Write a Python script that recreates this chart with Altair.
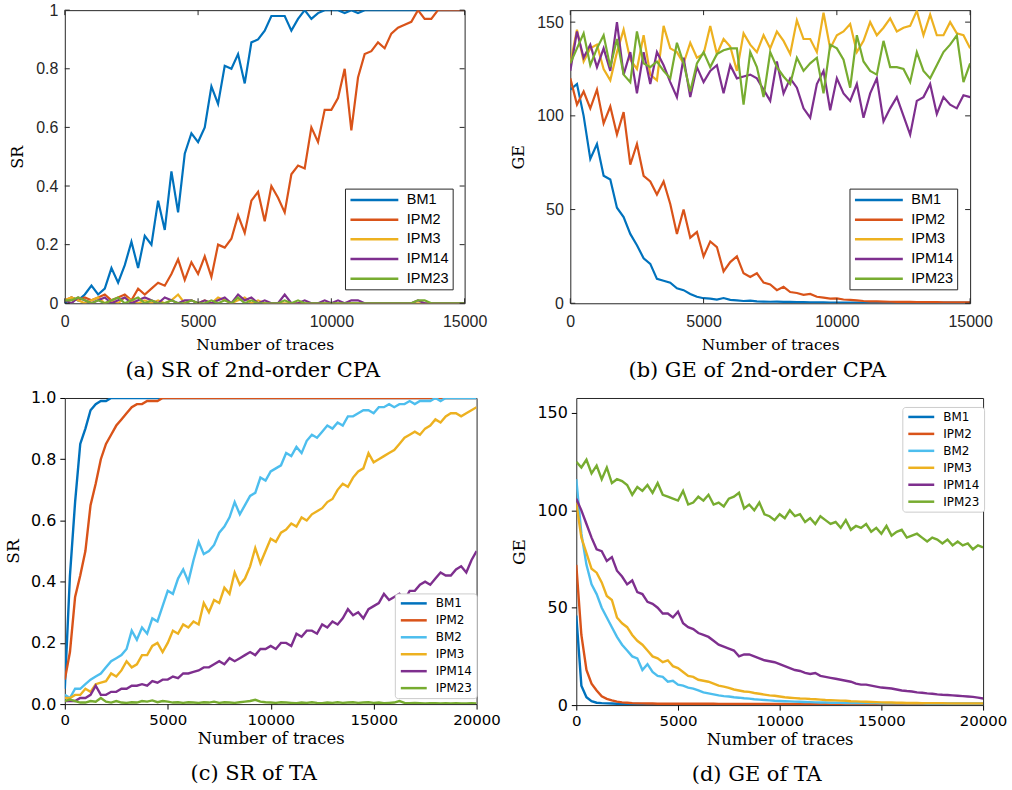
import altair as alt
import pandas as pd

# ---------------------------------------------------------------- data
# Traces are sampled every 250; each row below covers 1000 traces.
STEP = 250

SERIES_TOP = ["BM1", "IPM2", "IPM3", "IPM14", "IPM23"]
COLORS_TOP = ["#0072BD", "#D95319", "#EDB120", "#7E2F8E", "#77AC30"]
SERIES_BOT = ["BM1", "IPM2", "BM2", "IPM3", "IPM14", "IPM23"]
COLORS_BOT = ["#0072BD", "#D95319", "#4DBEEE", "#EDB120", "#7E2F8E", "#77AC30"]

X_TICKS_TOP = [0, 5000, 10000, 15000]
X_TICKS_BOT = [0, 5000, 10000, 15000, 20000]
SR_TICKS = [0, 0.2, 0.4, 0.6, 0.8, 1.0]
GE_TICKS = [0, 50, 100, 150]

# (a) success rate, 2nd-order CPA (0 .. 15000)
sr_cpa_bm1 = [
    0.00, 0.02, 0.01, 0.03,
    0.06, 0.03, 0.05, 0.12,
    0.07, 0.13, 0.21, 0.12,
    0.23, 0.20, 0.35, 0.25,
    0.45, 0.31, 0.51, 0.58,
    0.55, 0.60, 0.74, 0.68,
    0.81, 0.80, 0.85, 0.75,
    0.89, 0.90, 0.93, 0.98,
    0.98, 0.98, 0.93, 0.97,
    1.00, 0.97, 0.99, 1.00,
    1.00, 1.00, 0.99, 1.00,
    0.99, 1.00, 1.00, 1.00,
    1.00, 1.00, 1.00, 1.00,
    1.00, 1.00, 1.00, 1.00,
    1.00, 1.00, 1.00, 1.00,
    1.00]
sr_cpa_ipm2 = [
    0.01, 0.02, 0.01, 0.02,
    0.01, 0.02, 0.03, 0.01,
    0.02, 0.03, 0.01, 0.05,
    0.03, 0.05, 0.07, 0.06,
    0.10, 0.15, 0.08, 0.14,
    0.10, 0.16, 0.09, 0.20,
    0.19, 0.22, 0.30, 0.24,
    0.35, 0.38, 0.28, 0.40,
    0.36, 0.31, 0.44, 0.47,
    0.46, 0.60, 0.55, 0.66,
    0.66, 0.70, 0.80, 0.59,
    0.77, 0.85, 0.86, 0.89,
    0.87, 0.92, 0.94, 0.95,
    0.96, 1.00, 0.97, 0.97,
    1.00, 1.00, 1.00, 1.00,
    1.00]
sr_cpa_ipm3 = [
    0.01, 0.02, 0.01, 0.00,
    0.01, 0.02, 0.00, 0.01,
    0.00, 0.02, 0.01, 0.00,
    0.01, 0.00, 0.01, 0.00,
    0.01, 0.03, 0.00, 0.01,
    0.00, 0.01, 0.00, 0.02,
    0.01, 0.00, 0.01, 0.02,
    0.00, 0.01, 0.00, 0.00,
    0.00, 0.00, 0.00, 0.00,
    0.00, 0.00, 0.00, 0.00,
    0.00, 0.00, 0.00, 0.00,
    0.00, 0.00, 0.00, 0.00,
    0.00, 0.00, 0.00, 0.00,
    0.00, 0.00, 0.00, 0.00,
    0.00, 0.00, 0.00, 0.00,
    0.00]
sr_cpa_ipm14 = [
    0.01, 0.00, 0.02, 0.01,
    0.00, 0.01, 0.02, 0.00,
    0.01, 0.02, 0.00, 0.01,
    0.02, 0.01, 0.00, 0.02,
    0.01, 0.00, 0.01, 0.01,
    0.00, 0.01, 0.00, 0.01,
    0.02, 0.00, 0.03, 0.01,
    0.02, 0.00, 0.01, 0.00,
    0.00, 0.03, 0.00, 0.00,
    0.01, 0.00, 0.00, 0.01,
    0.00, 0.01, 0.00, 0.01,
    0.01, 0.00, 0.00, 0.00,
    0.00, 0.00, 0.00, 0.00,
    0.00, 0.01, 0.00, 0.00,
    0.00, 0.00, 0.00, 0.00,
    0.00]
sr_cpa_ipm23 = [
    0.01, 0.01, 0.02, 0.01,
    0.00, 0.01, 0.00, 0.01,
    0.02, 0.00, 0.01, 0.02,
    0.00, 0.01, 0.00, 0.00,
    0.01, 0.00, 0.00, 0.01,
    0.00, 0.00, 0.01, 0.00,
    0.01, 0.00, 0.02, 0.00,
    0.01, 0.00, 0.00, 0.00,
    0.00, 0.01, 0.00, 0.01,
    0.00, 0.00, 0.00, 0.00,
    0.00, 0.00, 0.00, 0.00,
    0.00, 0.00, 0.00, 0.00,
    0.00, 0.00, 0.00, 0.00,
    0.00, 0.01, 0.01, 0.00,
    0.00, 0.00, 0.00, 0.00,
    0.00]

# (b) guessing entropy, 2nd-order CPA (0 .. 15000)
ge_cpa_bm1 = [
    114, 117, 100, 77,
    85, 68, 66, 51,
    46, 37, 31, 24,
    21, 13, 12, 11,
    8, 7, 5, 3.5,
    2.7, 2.5, 2.0, 2.8,
    1.8, 1.5, 1.2, 1.4,
    1.0, 0.9, 0.8, 0.9,
    0.7, 0.7, 0.6, 0.6,
    0.5, 0.5, 0.5, 0.4,
    0.4, 0.4, 0.4, 0.4,
    0.3, 0.3, 0.3, 0.3,
    0.3, 0.3, 0.3, 0.3,
    0.3, 0.3, 0.3, 0.3,
    0.3, 0.3, 0.3, 0.3,
    0.3]
ge_cpa_ipm2 = [
    120, 106, 113, 104,
    114, 96, 105, 90,
    102, 74, 85, 68,
    65, 58, 65, 53,
    37, 50, 35, 38,
    25, 33, 30, 17,
    22, 25, 16, 14,
    16, 11, 10, 7,
    8.8, 6, 5.5, 4.5,
    5, 3.5, 3, 2.5,
    2.6, 2, 1.8, 1.5,
    1.2, 1.0, 1.0, 0.9,
    0.8, 0.7, 0.7, 0.7,
    0.6, 0.6, 0.6, 0.6,
    0.5, 0.5, 0.5, 0.5,
    0.5]
ge_cpa_ipm3 = [
    128, 146, 129, 136,
    138, 125, 119, 134,
    146, 130, 125, 143,
    122, 119, 148, 136,
    134, 128, 139, 131,
    133, 148, 133, 141,
    137, 124, 144, 138,
    134, 143, 136, 145,
    140, 133, 151, 141,
    141, 134, 155, 136,
    143, 145, 149, 134,
    140, 150, 143, 147,
    152, 145, 147, 148,
    156, 143, 154, 143,
    143, 150, 144, 143,
    136]
ge_cpa_ipm14 = [
    124, 145, 131, 138,
    126, 136, 124, 150,
    122, 134, 112, 134,
    117, 134, 127, 118,
    110, 131, 110, 126,
    118, 124, 127, 112,
    127, 120, 121, 122,
    120, 114, 108, 129,
    112, 120, 115, 104,
    99, 117, 124, 103,
    120, 112, 108, 117,
    99, 112, 120, 97,
    104, 110, 100, 90,
    108, 110, 117, 101,
    110, 106, 104, 111,
    110]
ge_cpa_ipm23 = [
    128, 136, 144, 127,
    136, 143, 126, 141,
    122, 118, 145, 128,
    126, 129, 124, 120,
    139, 128, 113, 128,
    134, 126, 133, 135,
    136, 136, 106, 134,
    126, 110, 134, 126,
    121, 117, 131, 124,
    128, 131, 112, 138,
    136, 130, 115, 143,
    129, 124, 122, 140,
    126, 126, 125, 118,
    134, 124, 120, 127,
    134, 138, 143, 118,
    128]

# (c) success rate, template attack (0 .. 20000)
sr_ta_bm1 = [
    0.05, 0.42, 0.66, 0.85,
    0.90, 0.96, 0.98, 0.99,
    0.99, 1.00, 1.00, 1.00,
    1.00, 1.00, 1.00, 1.00,
    1.00, 1.00, 1.00, 1.00,
    1.00, 1.00, 1.00, 1.00,
    1.00, 1.00, 1.00, 1.00,
    1.00, 1.00, 1.00, 1.00,
    1.00, 1.00, 1.00, 1.00,
    1.00, 1.00, 1.00, 1.00,
    1.00, 1.00, 1.00, 1.00,
    1.00, 1.00, 1.00, 1.00,
    1.00, 1.00, 1.00, 1.00,
    1.00, 1.00, 1.00, 1.00,
    1.00, 1.00, 1.00, 1.00,
    1.00, 1.00, 1.00, 1.00,
    1.00, 1.00, 1.00, 1.00,
    1.00, 1.00, 1.00, 1.00,
    1.00, 1.00, 1.00, 1.00,
    1.00, 1.00, 1.00, 1.00,
    1.00]
sr_ta_ipm2 = [
    0.08, 0.17, 0.35, 0.42,
    0.50, 0.65, 0.72, 0.80,
    0.85, 0.88, 0.91, 0.93,
    0.95, 0.97, 0.98, 0.98,
    0.99, 0.99, 0.99, 1.00,
    1.00, 1.00, 1.00, 1.00,
    1.00, 1.00, 1.00, 1.00,
    1.00, 1.00, 1.00, 1.00,
    1.00, 1.00, 1.00, 1.00,
    1.00, 1.00, 1.00, 1.00,
    1.00, 1.00, 1.00, 1.00,
    1.00, 1.00, 1.00, 1.00,
    1.00, 1.00, 1.00, 1.00,
    1.00, 1.00, 1.00, 1.00,
    1.00, 1.00, 1.00, 1.00,
    1.00, 1.00, 1.00, 1.00,
    1.00, 1.00, 1.00, 1.00,
    1.00, 1.00, 1.00, 1.00,
    1.00, 1.00, 1.00, 1.00,
    1.00, 1.00, 1.00, 1.00,
    1.00]
sr_ta_bm2 = [
    0.03, 0.02, 0.05, 0.05,
    0.065, 0.08, 0.09, 0.10,
    0.12, 0.14, 0.15, 0.16,
    0.18, 0.24, 0.21, 0.25,
    0.23, 0.28, 0.27, 0.32,
    0.37, 0.36, 0.41, 0.44,
    0.40, 0.47, 0.53, 0.49,
    0.50, 0.52, 0.56, 0.58,
    0.61, 0.66, 0.62, 0.65,
    0.68, 0.69, 0.74, 0.73,
    0.76, 0.77, 0.78, 0.82,
    0.81, 0.84, 0.82, 0.86,
    0.88, 0.87, 0.89, 0.91,
    0.90, 0.92, 0.91, 0.94,
    0.94, 0.95, 0.96, 0.96,
    0.95, 0.97, 0.97, 0.98,
    0.97, 0.98, 0.98, 0.99,
    0.98, 0.99, 0.99, 0.99,
    1.00, 0.99, 1.00, 1.00,
    1.00, 1.00, 1.00, 1.00,
    1.00]
sr_ta_ipm3 = [
    0.02, 0.02, 0.03, 0.03,
    0.05, 0.04, 0.065, 0.07,
    0.075, 0.10, 0.09, 0.11,
    0.14, 0.12, 0.13, 0.16,
    0.16, 0.19, 0.20, 0.17,
    0.20, 0.24, 0.23, 0.26,
    0.25, 0.27, 0.26, 0.33,
    0.30, 0.34, 0.33, 0.38,
    0.36, 0.43, 0.39, 0.41,
    0.45, 0.51, 0.46, 0.50,
    0.54, 0.53, 0.56, 0.57,
    0.59, 0.58, 0.61, 0.60,
    0.62, 0.63, 0.64, 0.66,
    0.67, 0.70, 0.72, 0.71,
    0.74, 0.76, 0.77, 0.82,
    0.79, 0.80, 0.81, 0.82,
    0.83, 0.85, 0.87, 0.88,
    0.89, 0.88, 0.90, 0.91,
    0.93, 0.92, 0.94, 0.95,
    0.95, 0.94, 0.95, 0.96,
    0.97]
sr_ta_ipm14 = [
    0.01, 0.01, 0.01, 0.02,
    0.02, 0.03, 0.06, 0.03,
    0.03, 0.04, 0.04, 0.05,
    0.05, 0.06, 0.06, 0.065,
    0.06, 0.075, 0.07, 0.08,
    0.08, 0.09, 0.085, 0.10,
    0.10, 0.105, 0.11, 0.12,
    0.12, 0.13, 0.14, 0.13,
    0.15, 0.14, 0.15, 0.16,
    0.17, 0.16, 0.18, 0.18,
    0.19, 0.18, 0.20, 0.20,
    0.19, 0.23, 0.22, 0.24,
    0.24, 0.23, 0.26, 0.25,
    0.27, 0.26, 0.28, 0.31,
    0.29, 0.30, 0.28, 0.31,
    0.32, 0.33, 0.36, 0.34,
    0.35, 0.36, 0.34, 0.37,
    0.37, 0.39, 0.40, 0.39,
    0.41, 0.43, 0.42, 0.42,
    0.44, 0.45, 0.43, 0.47,
    0.50]
sr_ta_ipm23 = [
    0.010, 0.015, 0.010, 0.005,
    0.005, 0.010, 0.008, 0.020,
    0.008, 0.005, 0.010, 0.005,
    0.004, 0.006, 0.005, 0.010,
    0.008, 0.012, 0.006, 0.010,
    0.008, 0.005, 0.006, 0.004,
    0.006, 0.005, 0.004, 0.006,
    0.005, 0.008, 0.004, 0.006,
    0.005, 0.004, 0.006, 0.008,
    0.010, 0.014, 0.008, 0.006,
    0.005, 0.004, 0.006, 0.005,
    0.004, 0.003, 0.005, 0.004,
    0.006, 0.004, 0.003, 0.005,
    0.004, 0.006, 0.004, 0.005,
    0.006, 0.004, 0.005, 0.006,
    0.004, 0.005, 0.003, 0.004,
    0.005, 0.010, 0.004, 0.003,
    0.004, 0.003, 0.002, 0.003,
    0.003, 0.002, 0.003, 0.002,
    0.003, 0.002, 0.002, 0.003,
    0.002]

# (d) guessing entropy, template attack (0 .. 20000)
ge_ta_bm1 = [
    46, 10, 4, 2,
    1.2, 1.0, 0.9, 0.8,
    0.7, 0.7, 0.6, 0.6,
    0.6, 0.5, 0.5, 0.5,
    0.5, 0.5, 0.5, 0.5,
    0.5, 0.5, 0.5, 0.5,
    0.5, 0.5, 0.5, 0.5,
    0.4, 0.4, 0.4, 0.4,
    0.4, 0.4, 0.4, 0.4,
    0.4, 0.4, 0.4, 0.4,
    0.4, 0.4, 0.4, 0.4,
    0.4, 0.4, 0.4, 0.4,
    0.4, 0.4, 0.4, 0.4,
    0.4, 0.4, 0.4, 0.4,
    0.4, 0.4, 0.4, 0.4,
    0.4, 0.4, 0.4, 0.4,
    0.4, 0.4, 0.4, 0.4,
    0.4, 0.4, 0.4, 0.4,
    0.4, 0.4, 0.4, 0.4,
    0.4, 0.4, 0.4, 0.4,
    0.4]
ge_ta_ipm2 = [
    72, 36, 18, 11,
    7.5, 4.5, 3.2, 2.4,
    1.8, 1.4, 1.2, 1.0,
    0.9, 0.9, 0.8, 0.8,
    0.7, 0.7, 0.7, 0.7,
    0.7, 0.7, 0.7, 0.7,
    0.7, 0.7, 0.7, 0.7,
    0.6, 0.6, 0.6, 0.6,
    0.6, 0.6, 0.6, 0.6,
    0.6, 0.6, 0.6, 0.6,
    0.6, 0.6, 0.6, 0.6,
    0.6, 0.6, 0.6, 0.6,
    0.6, 0.6, 0.6, 0.6,
    0.6, 0.6, 0.6, 0.6,
    0.6, 0.6, 0.6, 0.6,
    0.6, 0.6, 0.6, 0.6,
    0.6, 0.6, 0.6, 0.6,
    0.6, 0.6, 0.6, 0.6,
    0.6, 0.6, 0.6, 0.6,
    0.6, 0.6, 0.6, 0.6,
    0.6]
ge_ta_bm2 = [
    116, 88, 72, 62,
    57, 50, 45, 40,
    35, 31, 28, 25,
    24, 18, 21, 17,
    15, 14.5, 12, 12.5,
    10.5, 10, 9, 8.5,
    7.5, 6.5, 6, 5.5,
    5, 4.6, 4.4, 4,
    3.8, 3.5, 3.3, 3,
    2.8, 2.6, 2.4, 2.2,
    2.1, 2.0, 1.9, 1.8,
    1.7, 1.6, 1.5, 1.4,
    1.3, 1.3, 1.2, 1.2,
    1.2, 1.1, 1.1, 1.1,
    1.0, 1.0, 1.0, 1.0,
    0.9, 0.9, 0.9, 0.9,
    0.9, 0.9, 0.9, 0.9,
    0.9, 0.8, 0.8, 0.8,
    0.8, 0.8, 0.8, 0.8,
    0.8, 0.8, 0.8, 0.8,
    0.8]
ge_ta_ipm3 = [
    104, 86, 78, 70,
    68, 63, 56, 54,
    45, 42, 40, 36,
    33, 31, 28, 25,
    24, 22, 23, 20,
    19, 17, 15, 14.5,
    13, 12.5, 12, 11,
    10, 9.5, 8.8, 8,
    7.5, 7, 6.8, 6.2,
    5.8, 5.4, 5, 4.8,
    4.4, 4, 3.8, 3.6,
    3.4, 3.3, 3.1, 3.0,
    2.8, 2.6, 2.5, 2.4,
    2.3, 2.2, 2.0, 1.9,
    1.8, 1.7, 1.6, 1.5,
    1.4, 1.3, 1.3, 1.2,
    1.2, 1.1, 1.1, 1.1,
    1.0, 1.0, 1.0, 1.0,
    1.0, 0.9, 0.9, 0.9,
    0.9, 0.9, 0.9, 0.9,
    0.9]
ge_ta_ipm14 = [
    106, 100, 93, 86,
    80, 79, 74, 76,
    69, 66, 62, 64,
    58, 57, 53, 52,
    50, 47, 47, 45,
    48, 42, 40, 39,
    37, 36, 35, 33,
    31, 30, 29, 28,
    25, 26, 26, 25,
    24, 23, 22.5, 22,
    21, 20, 19, 18,
    17.5, 16.5, 16, 16.5,
    15, 14.5, 14, 13.5,
    13, 12.5, 12, 11,
    10.5, 10.5, 10, 9.5,
    9, 8.8, 8.5, 8,
    7.5, 7.2, 7, 6.5,
    6.3, 6, 5.8, 5.5,
    5.3, 5.2, 5, 4.8,
    4.6, 4.4, 4.2, 3.8,
    3.4]
ge_ta_ipm23 = [
    125, 122, 126, 119,
    123, 116, 122, 114,
    116, 115, 113, 108,
    112, 110, 113, 109,
    114, 108, 107, 106,
    105, 110, 103, 104,
    107, 105, 108, 103,
    104, 102, 106, 107,
    109, 101, 103, 100,
    104, 98, 97, 95,
    98, 96, 100, 97,
    98, 94, 96, 93,
    97, 95, 93, 94,
    91, 95, 90, 92,
    91, 93, 89, 91,
    88, 92, 87, 89,
    90, 86, 87, 88,
    86, 84, 86, 85,
    83, 85, 82, 84,
    82, 83, 80, 82,
    81]


def long_frame(names, columns):
    rows = []
    for name, vals in zip(names, columns):
        for i, v in enumerate(vals):
            rows.append({"x": i * STEP, "value": v, "series": name})
    return pd.DataFrame(rows)


df_a = long_frame(SERIES_TOP, [sr_cpa_bm1, sr_cpa_ipm2, sr_cpa_ipm3, sr_cpa_ipm14, sr_cpa_ipm23])
df_b = long_frame(SERIES_TOP, [ge_cpa_bm1, ge_cpa_ipm2, ge_cpa_ipm3, ge_cpa_ipm14, ge_cpa_ipm23])
df_c = long_frame(SERIES_BOT, [sr_ta_bm1, sr_ta_ipm2, sr_ta_bm2, sr_ta_ipm3, sr_ta_ipm14, sr_ta_ipm23])
df_d = long_frame(SERIES_BOT, [ge_ta_bm1, ge_ta_ipm2, ge_ta_bm2, ge_ta_ipm3, ge_ta_ipm14, ge_ta_ipm23])

SERIF = "DejaVu Serif"
INK = "#262626"
CAPTION_SIZE = 21


# ---------------------------------------------------------------- panels
def matlab_panel(df, W, H, xmax, ydom, yticks, yfmt, ytitle, lx, ly, caption, cdx):
    xaxis = alt.Axis(values=X_TICKS_TOP, format="d", ticks=False, domain=False, grid=False,
                     labelFont="Liberation Sans", labelFontSize=16, labelColor=INK,
                     labelFlush=False, labelPadding=10,
                     title="Number of traces", titleFont=SERIF, titleFontSize=15.5,
                     titleFontWeight="normal", titleColor="black", titlePadding=8)
    yaxis = alt.Axis(values=yticks, format=yfmt, ticks=False, domain=False, grid=False,
                     labelFont="Liberation Sans", labelFontSize=16, labelColor=INK,
                     labelPadding=7, title=ytitle, titleFont=SERIF, titleFontSize=16,
                     titleFontWeight="normal", titleColor="black", titlePadding=10)
    xsc = alt.Scale(domain=[0, xmax], nice=False, zero=False)
    ysc = alt.Scale(domain=ydom, nice=False, zero=False)
    legend = alt.Legend(orient="none", legendX=lx, legendY=ly, title=None,
                        symbolType="M-1,0H7", symbolSize=144, symbolStrokeWidth=2.5,
                        labelFont="Liberation Sans", labelFontSize=14.5, labelColor="black",
                        labelOffset=43, padding=4, rowPadding=4.7,
                        strokeColor=INK, fillColor="white")
    lines = alt.Chart(df).mark_line(strokeWidth=2.2, clip=True).encode(
        x=alt.X("x:Q", scale=xsc, axis=xaxis),
        y=alt.Y("value:Q", scale=ysc, axis=yaxis),
        color=alt.Color("series:N", scale=alt.Scale(domain=SERIES_TOP, range=COLORS_TOP),
                        legend=legend, sort=SERIES_TOP),
    )
    # inward ticks on all four sides of the box
    xt = pd.DataFrame({"x": X_TICKS_TOP})
    yt = pd.DataFrame({"value": yticks})
    tick = dict(color=INK, strokeWidth=1)
    t_top = alt.Chart(xt).mark_rule(**tick).encode(
        x=alt.X("x:Q", scale=xsc, axis=xaxis), y=alt.value(0), y2=alt.value(5))
    t_bot = alt.Chart(xt).mark_rule(**tick).encode(
        x=alt.X("x:Q", scale=xsc, axis=xaxis), y=alt.value(H), y2=alt.value(H - 5))
    t_left = alt.Chart(yt).mark_rule(**tick).encode(
        y=alt.Y("value:Q", scale=ysc, axis=yaxis), x=alt.value(0), x2=alt.value(5))
    t_right = alt.Chart(yt).mark_rule(**tick).encode(
        y=alt.Y("value:Q", scale=ysc, axis=yaxis), x=alt.value(W - 5), x2=alt.value(W))
    return alt.layer(lines, t_top, t_bot, t_left, t_right).properties(
        width=W, height=H,
        title=alt.TitleParams(caption, orient="bottom", font=SERIF, fontSize=CAPTION_SIZE,
                              fontWeight="normal", color="black", offset=7, dx=cdx),
    )


def mpl_panel(df, W, H, ydom, yticks, yfmt, ytitle, lx, ly, caption, cdx):
    xaxis = alt.Axis(values=X_TICKS_BOT, format="d", ticks=True, tickSize=5, tickColor="black",
                     tickWidth=1, domain=False, grid=False,
                     labelFont="DejaVu Sans", labelFontSize=15, labelColor="black",
                     labelFlush=False, labelPadding=3,
                     title="Number of traces", titleFont=SERIF, titleFontSize=16.5,
                     titleFontWeight="normal", titleColor="black", titlePadding=4)
    yaxis = alt.Axis(values=yticks, format=yfmt, ticks=True, tickSize=5, tickColor="black",
                     tickWidth=1, domain=False, grid=False,
                     labelFont="DejaVu Sans", labelFontSize=16, labelColor="black",
                     labelPadding=4, title=ytitle, titleFont=SERIF, titleFontSize=17,
                     titleFontWeight="normal", titleColor="black", titlePadding=8)
    legend = alt.Legend(orient="none", legendX=lx, legendY=ly, title=None,
                        symbolType="M-1,0H5.5", symbolSize=64, symbolStrokeWidth=2.5,
                        labelFont="DejaVu Sans", labelFontSize=12, labelColor="black",
                        labelOffset=25, padding=4, rowPadding=5,
                        strokeColor="#cccccc", fillColor="white", cornerRadius=3)
    lines = alt.Chart(df).mark_line(strokeWidth=2.4, clip=True).encode(
        x=alt.X("x:Q", scale=alt.Scale(domain=[0, 20000], nice=False, zero=False), axis=xaxis),
        y=alt.Y("value:Q", scale=alt.Scale(domain=ydom, nice=False, zero=False), axis=yaxis),
        color=alt.Color("series:N", scale=alt.Scale(domain=SERIES_BOT, range=COLORS_BOT),
                        legend=legend, sort=SERIES_BOT),
    )
    return lines.properties(
        width=W, height=H,
        title=alt.TitleParams(caption, orient="bottom", font=SERIF, fontSize=CAPTION_SIZE,
                              fontWeight="normal", color="black", offset=16, dx=cdx),
    )


pa = matlab_panel(df_a, 401, 294, 15000, [0, 1], SR_TICKS, "~g", "SR", 281, 179,
                  "(a) SR of 2nd-order CPA", -12)
pb = matlab_panel(df_b, 401, 294, 15000, [0, 156.4], GE_TICKS, "d", "GE", 280, 179,
                  "(b) GE of 2nd-order CPA", -13)
pc = mpl_panel(df_c, 413, 307, [0, 1], SR_TICKS, ".1f", "SR", 331, 196,
               "(c) SR of TA", -17)
pd_ = mpl_panel(df_d, 408, 308, [0, 157.7], GE_TICKS, "d", "GE", 327, 9,
                "(d) GE of TA", -23)

row1 = alt.hconcat(pa, pb, spacing=22).resolve_scale(color="independent")
row2 = alt.hconcat(pc, pd_, spacing=8).resolve_scale(color="independent")

chart = alt.vconcat(row1, row2, spacing=8).resolve_scale(
    color="independent"
).properties(
    padding={"left": 4, "top": 0, "right": 4, "bottom": 4},
    background="white",
).configure_view(
    stroke=INK, strokeWidth=1
)

chart.save("out.html", embed_options={"renderer": "svg", "actions": False})
